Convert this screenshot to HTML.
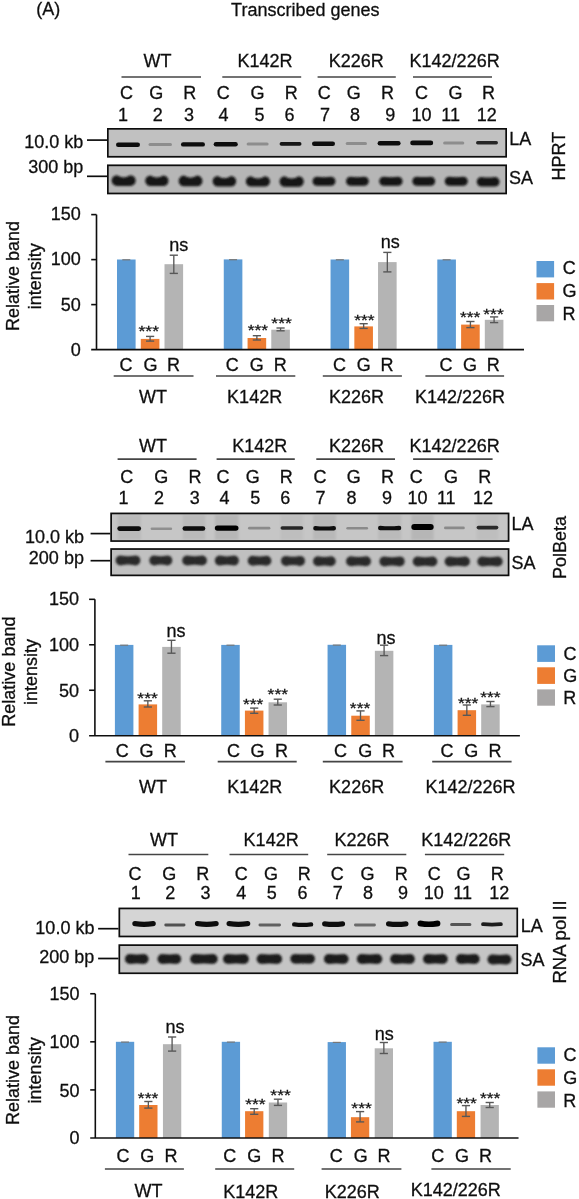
<!DOCTYPE html>
<html><head><meta charset="utf-8"><style>
html,body{margin:0;padding:0;background:#fff;}
svg{display:block;}
text{font-family:"Liberation Sans",sans-serif;stroke:#111;stroke-width:0.3px;}
</style></head><body>
<svg width="579" height="1199" viewBox="0 0 579 1199">
<defs>
<filter id="bl1" x="-20%" y="-200%" width="140%" height="500%"><feGaussianBlur stdDeviation="0.5"/></filter>
<filter id="bl2" x="-20%" y="-50%" width="140%" height="200%"><feGaussianBlur stdDeviation="0.9"/></filter>
<filter id="soft" x="0" y="0" width="579" height="1199" filterUnits="userSpaceOnUse"><feGaussianBlur stdDeviation="0.3"/></filter>
</defs>
<rect width="579" height="1199" fill="#fff"/>
<g filter="url(#soft)">
<text x="36.15" y="14.90" font-size="18" fill="#111">(A)</text>
<text x="231.08" y="15.60" font-size="18" fill="#111">Transcribed genes</text>
<text x="143.52" y="66.90" font-size="18" fill="#111">WT</text>
<text x="237.41" y="67.20" font-size="18" fill="#111">K142R</text>
<text x="328.66" y="67.20" font-size="18" fill="#111">K226R</text>
<text x="409.59" y="67.20" font-size="18" fill="#111">K142/226R</text>
<line x1="121.50" y1="77.00" x2="201.00" y2="77.00" stroke="#444" stroke-width="1.7"/>
<line x1="222.30" y1="77.00" x2="301.20" y2="77.00" stroke="#444" stroke-width="1.7"/>
<line x1="317.60" y1="77.00" x2="395.80" y2="77.00" stroke="#444" stroke-width="1.7"/>
<line x1="413.00" y1="77.00" x2="492.00" y2="77.00" stroke="#444" stroke-width="1.7"/>
<text x="119.89" y="98.90" font-size="18" fill="#111">C</text>
<text x="149.22" y="98.90" font-size="18" fill="#111">G</text>
<text x="183.18" y="98.90" font-size="18" fill="#111">R</text>
<text x="216.64" y="98.90" font-size="18" fill="#111">C</text>
<text x="250.42" y="98.90" font-size="18" fill="#111">G</text>
<text x="284.73" y="98.90" font-size="18" fill="#111">R</text>
<text x="317.64" y="98.90" font-size="18" fill="#111">C</text>
<text x="346.87" y="98.90" font-size="18" fill="#111">G</text>
<text x="381.03" y="98.90" font-size="18" fill="#111">R</text>
<text x="414.94" y="98.90" font-size="18" fill="#111">C</text>
<text x="448.57" y="98.90" font-size="18" fill="#111">G</text>
<text x="482.03" y="98.90" font-size="18" fill="#111">R</text>
<text x="117.95" y="121.20" font-size="18" fill="#111">1</text>
<text x="152.69" y="121.20" font-size="18" fill="#111">2</text>
<text x="183.90" y="121.20" font-size="18" fill="#111">3</text>
<text x="218.45" y="121.20" font-size="18" fill="#111">4</text>
<text x="254.61" y="121.20" font-size="18" fill="#111">5</text>
<text x="284.43" y="121.20" font-size="18" fill="#111">6</text>
<text x="319.99" y="121.20" font-size="18" fill="#111">7</text>
<text x="349.99" y="121.20" font-size="18" fill="#111">8</text>
<text x="385.25" y="121.20" font-size="18" fill="#111">9</text>
<text x="411.41" y="121.20" font-size="18" fill="#111">10</text>
<text x="441.29" y="121.20" font-size="18" fill="#111">11</text>
<text x="476.71" y="121.20" font-size="18" fill="#111">12</text>
<rect x="107.00" y="128.00" width="400.00" height="29.60" fill="#c1c1c1"/>
<rect x="107.00" y="164.50" width="400.00" height="29.80" fill="#b6b6b6"/>
<g filter="url(#bl1)">
<path d="M118.20,142.60 Q128.00,142.60 137.80,142.60 A2.20,2.20 0 0 1 137.80,147.00 Q128.00,147.00 118.20,147.00 A2.20,2.20 0 0 1 118.20,142.60Z" fill="#000" fill-opacity="0.95"/>
<path d="M150.00,143.10 Q160.25,143.10 170.50,143.10 A1.50,1.50 0 0 1 170.50,146.10 Q160.25,146.10 150.00,146.10 A1.50,1.50 0 0 1 150.00,143.10Z" fill="#000" fill-opacity="0.27"/>
<path d="M183.20,142.20 Q193.00,142.20 202.80,142.20 A2.20,2.20 0 0 1 202.80,146.60 Q193.00,146.60 183.20,146.60 A2.20,2.20 0 0 1 183.20,142.20Z" fill="#000" fill-opacity="0.95"/>
<path d="M215.95,141.95 Q225.75,141.95 235.55,141.95 A2.25,2.25 0 0 1 235.55,146.45 Q225.75,146.45 215.95,146.45 A2.25,2.25 0 0 1 215.95,141.95Z" fill="#000" fill-opacity="0.95"/>
<path d="M248.10,142.60 Q257.60,142.60 267.10,142.60 A1.50,1.50 0 0 1 267.10,145.60 Q257.60,145.60 248.10,145.60 A1.50,1.50 0 0 1 248.10,142.60Z" fill="#000" fill-opacity="0.27"/>
<path d="M281.40,142.10 Q290.55,142.10 299.70,142.10 A1.80,1.80 0 0 1 299.70,145.70 Q290.55,145.70 281.40,145.70 A1.80,1.80 0 0 1 281.40,142.10Z" fill="#000" fill-opacity="0.90"/>
<path d="M314.25,141.45 Q323.50,141.45 332.75,141.45 A2.25,2.25 0 0 1 332.75,145.95 Q323.50,145.95 314.25,145.95 A2.25,2.25 0 0 1 314.25,141.45Z" fill="#000" fill-opacity="0.95"/>
<path d="M347.20,142.00 Q356.35,142.00 365.50,142.00 A1.50,1.50 0 0 1 365.50,145.00 Q356.35,145.00 347.20,145.00 A1.50,1.50 0 0 1 347.20,142.00Z" fill="#000" fill-opacity="0.27"/>
<path d="M379.85,141.05 Q389.10,141.05 398.35,141.05 A2.25,2.25 0 0 1 398.35,145.55 Q389.10,145.55 379.85,145.55 A2.25,2.25 0 0 1 379.85,141.05Z" fill="#000" fill-opacity="0.95"/>
<path d="M412.60,140.50 Q421.70,140.50 430.80,140.50 A2.40,2.40 0 0 1 430.80,145.30 Q421.70,145.30 412.60,145.30 A2.40,2.40 0 0 1 412.60,140.50Z" fill="#000" fill-opacity="0.95"/>
<path d="M444.60,141.40 Q453.70,141.40 462.80,141.40 A1.50,1.50 0 0 1 462.80,144.40 Q453.70,144.40 444.60,144.40 A1.50,1.50 0 0 1 444.60,141.40Z" fill="#000" fill-opacity="0.27"/>
<path d="M477.70,141.10 Q487.00,141.10 496.30,141.10 A1.70,1.70 0 0 1 496.30,144.50 Q487.00,144.50 477.70,144.50 A1.70,1.70 0 0 1 477.70,141.10Z" fill="#000" fill-opacity="0.80"/>
</g><g filter="url(#bl2)">
<path d="M116.90,175.30 Q123.65,179.50 130.40,175.30 A5.30,5.30 0 0 1 130.40,185.90 Q123.65,185.90 116.90,185.90 A5.30,5.30 0 0 1 116.90,175.30Z" fill="#141414"/>
<path d="M150.50,175.40 Q156.85,179.60 163.20,175.40 A5.30,5.30 0 0 1 163.20,186.00 Q156.85,186.00 150.50,186.00 A5.30,5.30 0 0 1 150.50,175.40Z" fill="#141414"/>
<path d="M183.90,175.60 Q190.55,179.80 197.20,175.60 A5.30,5.30 0 0 1 197.20,186.20 Q190.55,186.20 183.90,186.20 A5.30,5.30 0 0 1 183.90,175.60Z" fill="#141414"/>
<path d="M217.80,176.10 Q224.40,180.50 231.00,176.10 A5.20,5.20 0 0 1 231.00,186.50 Q224.40,186.50 217.80,186.50 A5.20,5.20 0 0 1 217.80,176.10Z" fill="#141414"/>
<path d="M251.00,176.20 Q257.90,180.60 264.80,176.20 A5.20,5.20 0 0 1 264.80,186.60 Q257.90,186.60 251.00,186.60 A5.20,5.20 0 0 1 251.00,176.20Z" fill="#141414"/>
<path d="M284.70,176.30 Q291.65,180.70 298.60,176.30 A5.20,5.20 0 0 1 298.60,186.70 Q291.65,186.70 284.70,186.70 A5.20,5.20 0 0 1 284.70,176.30Z" fill="#141414"/>
<path d="M317.00,176.80 Q324.00,177.60 331.00,176.80 A4.50,4.50 0 0 1 331.00,185.80 Q324.00,185.80 317.00,185.80 A4.50,4.50 0 0 1 317.00,176.80Z" fill="#141414"/>
<path d="M350.50,176.80 Q357.40,177.60 364.30,176.80 A4.50,4.50 0 0 1 364.30,185.80 Q357.40,185.80 350.50,185.80 A4.50,4.50 0 0 1 350.50,176.80Z" fill="#141414"/>
<path d="M383.70,176.80 Q390.90,177.60 398.10,176.80 A4.50,4.50 0 0 1 398.10,185.80 Q390.90,185.80 383.70,185.80 A4.50,4.50 0 0 1 383.70,176.80Z" fill="#141414"/>
<path d="M416.80,176.70 Q423.75,177.50 430.70,176.70 A4.50,4.50 0 0 1 430.70,185.70 Q423.75,185.70 416.80,185.70 A4.50,4.50 0 0 1 416.80,176.70Z" fill="#141414"/>
<path d="M449.20,176.80 Q456.25,177.60 463.30,176.80 A4.50,4.50 0 0 1 463.30,185.80 Q456.25,185.80 449.20,185.80 A4.50,4.50 0 0 1 449.20,176.80Z" fill="#141414"/>
<path d="M481.50,177.00 Q488.15,178.00 494.80,177.00 A4.80,4.80 0 0 1 494.80,186.60 Q488.15,186.60 481.50,186.60 A4.80,4.80 0 0 1 481.50,177.00Z" fill="#141414"/>
</g>
<rect x="107.85" y="128.85" width="398.30" height="27.90" fill="none" stroke="#111" stroke-width="1.7"/>
<rect x="107.85" y="165.35" width="398.30" height="28.10" fill="none" stroke="#111" stroke-width="1.7"/>
<text x="24.27" y="148.10" font-size="18" fill="#111">10.0 kb</text>
<line x1="87.00" y1="140.10" x2="107.00" y2="140.10" stroke="#111" stroke-width="1.7"/>
<text x="28.16" y="173.30" font-size="18" fill="#111">300 bp</text>
<line x1="87.00" y1="176.30" x2="107.00" y2="176.30" stroke="#111" stroke-width="1.7"/>
<text x="509.27" y="145.20" font-size="18" fill="#111">LA</text>
<text x="509.10" y="184.10" font-size="18" fill="#111">SA</text>
<text transform="translate(565.20,180.53) rotate(-90)" font-size="18" fill="#111">HPRT</text>
<text x="50.67" y="220.40" font-size="18" fill="#111">150</text>
<text x="50.67" y="265.30" font-size="18" fill="#111">100</text>
<text x="60.68" y="310.90" font-size="18" fill="#111">50</text>
<text x="70.69" y="355.90" font-size="18" fill="#111">0</text>
<text transform="translate(19.00,330.95) rotate(-90)" font-size="18" fill="#111">Relative band</text>
<text transform="translate(41.00,309.35) rotate(-90)" font-size="18" fill="#111">intensity</text>
<rect x="117.00" y="259.50" width="18.60" height="90.10" fill="#5b9bd5"/>
<line x1="122.30" y1="259.80" x2="130.30" y2="259.80" stroke="#777" stroke-width="1.2"/>
<rect x="140.80" y="338.90" width="18.60" height="10.70" fill="#ed7d31"/>
<line x1="150.10" y1="336.40" x2="150.10" y2="341.10" stroke="#585858" stroke-width="1.35"/>
<line x1="146.00" y1="336.40" x2="154.20" y2="336.40" stroke="#585858" stroke-width="1.4"/>
<line x1="146.00" y1="341.10" x2="154.20" y2="341.10" stroke="#585858" stroke-width="1.4"/>
<rect x="164.50" y="264.20" width="18.60" height="85.40" fill="#b4b4b4"/>
<line x1="173.80" y1="255.20" x2="173.80" y2="273.40" stroke="#585858" stroke-width="1.35"/>
<line x1="169.70" y1="255.20" x2="177.90" y2="255.20" stroke="#585858" stroke-width="1.4"/>
<line x1="169.70" y1="273.40" x2="177.90" y2="273.40" stroke="#585858" stroke-width="1.4"/>
<rect x="223.77" y="259.40" width="18.60" height="90.20" fill="#5b9bd5"/>
<line x1="229.07" y1="259.70" x2="237.07" y2="259.70" stroke="#777" stroke-width="1.2"/>
<rect x="247.57" y="338.00" width="18.60" height="11.60" fill="#ed7d31"/>
<line x1="256.87" y1="335.70" x2="256.87" y2="340.00" stroke="#585858" stroke-width="1.35"/>
<line x1="252.77" y1="335.70" x2="260.97" y2="335.70" stroke="#585858" stroke-width="1.4"/>
<line x1="252.77" y1="340.00" x2="260.97" y2="340.00" stroke="#585858" stroke-width="1.4"/>
<rect x="271.27" y="329.70" width="18.60" height="19.90" fill="#b4b4b4"/>
<line x1="280.57" y1="328.00" x2="280.57" y2="330.80" stroke="#585858" stroke-width="1.35"/>
<line x1="276.47" y1="328.00" x2="284.67" y2="328.00" stroke="#585858" stroke-width="1.4"/>
<line x1="276.47" y1="330.80" x2="284.67" y2="330.80" stroke="#585858" stroke-width="1.4"/>
<rect x="330.54" y="259.50" width="18.60" height="90.10" fill="#5b9bd5"/>
<line x1="335.84" y1="259.80" x2="343.84" y2="259.80" stroke="#777" stroke-width="1.2"/>
<rect x="354.34" y="326.40" width="18.60" height="23.20" fill="#ed7d31"/>
<line x1="363.64" y1="323.70" x2="363.64" y2="328.40" stroke="#585858" stroke-width="1.35"/>
<line x1="359.54" y1="323.70" x2="367.74" y2="323.70" stroke="#585858" stroke-width="1.4"/>
<line x1="359.54" y1="328.40" x2="367.74" y2="328.40" stroke="#585858" stroke-width="1.4"/>
<rect x="378.04" y="262.10" width="18.60" height="87.50" fill="#b4b4b4"/>
<line x1="387.34" y1="252.40" x2="387.34" y2="271.90" stroke="#585858" stroke-width="1.35"/>
<line x1="383.24" y1="252.40" x2="391.44" y2="252.40" stroke="#585858" stroke-width="1.4"/>
<line x1="383.24" y1="271.90" x2="391.44" y2="271.90" stroke="#585858" stroke-width="1.4"/>
<rect x="437.31" y="259.50" width="18.60" height="90.10" fill="#5b9bd5"/>
<line x1="442.61" y1="259.80" x2="450.61" y2="259.80" stroke="#777" stroke-width="1.2"/>
<rect x="461.11" y="324.60" width="18.60" height="25.00" fill="#ed7d31"/>
<line x1="470.41" y1="321.50" x2="470.41" y2="327.60" stroke="#585858" stroke-width="1.35"/>
<line x1="466.31" y1="321.50" x2="474.51" y2="321.50" stroke="#585858" stroke-width="1.4"/>
<line x1="466.31" y1="327.60" x2="474.51" y2="327.60" stroke="#585858" stroke-width="1.4"/>
<rect x="484.81" y="319.80" width="18.60" height="29.80" fill="#b4b4b4"/>
<line x1="494.11" y1="316.90" x2="494.11" y2="322.60" stroke="#585858" stroke-width="1.35"/>
<line x1="490.01" y1="316.90" x2="498.21" y2="316.90" stroke="#585858" stroke-width="1.4"/>
<line x1="490.01" y1="322.60" x2="498.21" y2="322.60" stroke="#585858" stroke-width="1.4"/>
<line x1="96.50" y1="214.60" x2="96.50" y2="349.60" stroke="#111" stroke-width="1.6"/>
<line x1="91.20" y1="214.60" x2="96.50" y2="214.60" stroke="#111" stroke-width="1.6"/>
<line x1="91.20" y1="259.60" x2="96.50" y2="259.60" stroke="#111" stroke-width="1.6"/>
<line x1="91.20" y1="304.60" x2="96.50" y2="304.60" stroke="#111" stroke-width="1.6"/>
<line x1="91.20" y1="349.60" x2="524.00" y2="349.60" stroke="#111" stroke-width="1.6"/>
<text x="138.53" y="337.17" font-size="17.5" fill="#111" transform="translate(148.75,328.20) scale(1,0.84) translate(-148.75,-328.20)">***</text>
<text x="169.22" y="251.30" font-size="18" fill="#111">ns</text>
<text x="247.68" y="336.87" font-size="17.5" fill="#111" transform="translate(257.90,327.90) scale(1,0.84) translate(-257.90,-327.90)">***</text>
<text x="271.33" y="329.87" font-size="17.5" fill="#111" transform="translate(281.55,320.90) scale(1,0.84) translate(-281.55,-320.90)">***</text>
<text x="354.18" y="326.42" font-size="17.5" fill="#111" transform="translate(364.40,317.45) scale(1,0.84) translate(-364.40,-317.45)">***</text>
<text x="380.72" y="247.60" font-size="18" fill="#111">ns</text>
<text x="459.93" y="323.27" font-size="17.5" fill="#111" transform="translate(470.15,314.30) scale(1,0.84) translate(-470.15,-314.30)">***</text>
<text x="483.28" y="320.37" font-size="17.5" fill="#111" transform="translate(493.50,311.40) scale(1,0.84) translate(-493.50,-311.40)">***</text>
<text x="119.49" y="371.20" font-size="18" fill="#111">C</text>
<text x="143.57" y="371.20" font-size="18" fill="#111">G</text>
<text x="166.98" y="371.20" font-size="18" fill="#111">R</text>
<text x="225.74" y="371.20" font-size="18" fill="#111">C</text>
<text x="249.87" y="371.20" font-size="18" fill="#111">G</text>
<text x="273.73" y="371.20" font-size="18" fill="#111">R</text>
<text x="332.89" y="371.20" font-size="18" fill="#111">C</text>
<text x="356.87" y="371.20" font-size="18" fill="#111">G</text>
<text x="380.53" y="371.20" font-size="18" fill="#111">R</text>
<text x="439.49" y="371.20" font-size="18" fill="#111">C</text>
<text x="462.92" y="371.20" font-size="18" fill="#111">G</text>
<text x="486.73" y="371.20" font-size="18" fill="#111">R</text>
<line x1="113.70" y1="376.00" x2="193.50" y2="376.00" stroke="#444" stroke-width="1.7"/>
<line x1="216.00" y1="376.00" x2="295.30" y2="376.00" stroke="#444" stroke-width="1.7"/>
<line x1="322.80" y1="376.00" x2="401.90" y2="376.00" stroke="#444" stroke-width="1.7"/>
<line x1="425.40" y1="376.00" x2="504.10" y2="376.00" stroke="#444" stroke-width="1.7"/>
<text x="139.12" y="402.80" font-size="18" fill="#111">WT</text>
<text x="227.11" y="402.80" font-size="18" fill="#111">K142R</text>
<text x="328.96" y="402.80" font-size="18" fill="#111">K226R</text>
<text x="414.99" y="403.00" font-size="18" fill="#111">K142/226R</text>
<rect x="536.50" y="261.00" width="17.60" height="16.40" fill="#5b9bd5"/>
<rect x="536.50" y="283.10" width="17.60" height="16.40" fill="#ed7d31"/>
<rect x="536.50" y="305.00" width="17.60" height="16.30" fill="#a8a6a6"/>
<text x="562.74" y="274.30" font-size="18" fill="#111">C</text>
<text x="562.57" y="297.20" font-size="18" fill="#111">G</text>
<text x="562.53" y="320.20" font-size="18" fill="#111">R</text>
<text x="139.02" y="451.50" font-size="18" fill="#111">WT</text>
<text x="232.21" y="451.90" font-size="18" fill="#111">K142R</text>
<text x="328.91" y="451.90" font-size="18" fill="#111">K226R</text>
<text x="409.59" y="451.90" font-size="18" fill="#111">K142/226R</text>
<line x1="117.60" y1="459.20" x2="196.60" y2="459.20" stroke="#444" stroke-width="1.7"/>
<line x1="216.60" y1="459.20" x2="294.80" y2="459.20" stroke="#444" stroke-width="1.7"/>
<line x1="316.30" y1="459.20" x2="395.00" y2="459.20" stroke="#444" stroke-width="1.7"/>
<line x1="413.10" y1="459.20" x2="492.60" y2="459.20" stroke="#444" stroke-width="1.7"/>
<text x="120.34" y="483.20" font-size="18" fill="#111">C</text>
<text x="154.37" y="483.20" font-size="18" fill="#111">G</text>
<text x="188.38" y="483.20" font-size="18" fill="#111">R</text>
<text x="216.44" y="483.20" font-size="18" fill="#111">C</text>
<text x="245.72" y="483.20" font-size="18" fill="#111">G</text>
<text x="279.78" y="483.20" font-size="18" fill="#111">R</text>
<text x="313.44" y="483.20" font-size="18" fill="#111">C</text>
<text x="346.77" y="483.20" font-size="18" fill="#111">G</text>
<text x="381.03" y="483.20" font-size="18" fill="#111">R</text>
<text x="409.74" y="483.20" font-size="18" fill="#111">C</text>
<text x="443.92" y="483.20" font-size="18" fill="#111">G</text>
<text x="478.18" y="483.20" font-size="18" fill="#111">R</text>
<text x="118.45" y="503.90" font-size="18" fill="#111">1</text>
<text x="153.94" y="503.90" font-size="18" fill="#111">2</text>
<text x="189.65" y="503.90" font-size="18" fill="#111">3</text>
<text x="219.40" y="503.90" font-size="18" fill="#111">4</text>
<text x="250.26" y="503.90" font-size="18" fill="#111">5</text>
<text x="280.23" y="503.90" font-size="18" fill="#111">6</text>
<text x="315.44" y="503.90" font-size="18" fill="#111">7</text>
<text x="346.39" y="503.90" font-size="18" fill="#111">8</text>
<text x="381.95" y="503.90" font-size="18" fill="#111">9</text>
<text x="407.51" y="503.90" font-size="18" fill="#111">10</text>
<text x="436.94" y="503.90" font-size="18" fill="#111">11</text>
<text x="473.06" y="503.90" font-size="18" fill="#111">12</text>
<rect x="110.30" y="512.60" width="399.10" height="29.30" fill="#c6c6c6"/>
<rect x="110.30" y="548.20" width="399.10" height="28.00" fill="#c0c0c0"/>
<g filter="url(#bl2)">
<rect x="117.30" y="514.60" width="23.80" height="25.30" fill="#000" fill-opacity="0.060"/>
<rect x="182.50" y="514.60" width="22.80" height="25.30" fill="#000" fill-opacity="0.060"/>
<rect x="214.80" y="514.60" width="23.70" height="25.30" fill="#000" fill-opacity="0.080"/>
<rect x="280.50" y="514.60" width="22.80" height="25.30" fill="#000" fill-opacity="0.040"/>
<rect x="313.20" y="514.60" width="22.80" height="25.30" fill="#000" fill-opacity="0.070"/>
<rect x="378.00" y="514.60" width="23.30" height="25.30" fill="#000" fill-opacity="0.060"/>
<rect x="411.30" y="514.60" width="22.40" height="25.30" fill="#000" fill-opacity="0.080"/>
<rect x="476.60" y="514.60" width="21.80" height="25.30" fill="#000" fill-opacity="0.040"/>
</g>
<g filter="url(#bl1)">
<path d="M119.65,526.25 Q129.20,526.25 138.75,526.25 A2.35,2.35 0 0 1 138.75,530.95 Q129.20,530.95 119.65,530.95 A2.35,2.35 0 0 1 119.65,526.25Z" fill="#000" fill-opacity="0.95"/>
<path d="M151.90,527.50 Q161.40,527.50 170.90,527.50 A1.30,1.30 0 0 1 170.90,530.10 Q161.40,530.10 151.90,530.10 A1.30,1.30 0 0 1 151.90,527.50Z" fill="#000" fill-opacity="0.28"/>
<path d="M184.75,526.15 Q193.90,526.15 203.05,526.15 A2.25,2.25 0 0 1 203.05,530.65 Q193.90,530.65 184.75,530.65 A2.25,2.25 0 0 1 184.75,526.15Z" fill="#000" fill-opacity="0.95"/>
<path d="M217.50,525.40 Q226.65,525.40 235.80,525.40 A2.70,2.70 0 0 1 235.80,530.80 Q226.65,530.80 217.50,530.80 A2.70,2.70 0 0 1 217.50,525.40Z" fill="#000" fill-opacity="1.00"/>
<path d="M249.40,526.80 Q259.20,526.80 269.00,526.80 A1.40,1.40 0 0 1 269.00,529.60 Q259.20,529.60 249.40,529.60 A1.40,1.40 0 0 1 249.40,526.80Z" fill="#000" fill-opacity="0.30"/>
<path d="M282.25,526.25 Q291.90,526.25 301.55,526.25 A1.75,1.75 0 0 1 301.55,529.75 Q291.90,529.75 282.25,529.75 A1.75,1.75 0 0 1 282.25,526.25Z" fill="#000" fill-opacity="0.80"/>
<path d="M315.40,526.00 Q324.60,527.00 333.80,526.00 A2.20,2.20 0 0 1 333.80,530.40 Q324.60,530.40 315.40,530.40 A2.20,2.20 0 0 1 315.40,526.00Z" fill="#000" fill-opacity="0.95"/>
<path d="M347.55,526.95 Q357.20,526.95 366.85,526.95 A1.25,1.25 0 0 1 366.85,529.45 Q357.20,529.45 347.55,529.45 A1.25,1.25 0 0 1 347.55,526.95Z" fill="#000" fill-opacity="0.30"/>
<path d="M380.25,525.75 Q389.65,526.75 399.05,525.75 A2.25,2.25 0 0 1 399.05,530.25 Q389.65,530.25 380.25,530.25 A2.25,2.25 0 0 1 380.25,525.75Z" fill="#000" fill-opacity="0.95"/>
<path d="M414.30,524.00 Q422.50,524.00 430.70,524.00 A3.00,3.00 0 0 1 430.70,530.00 Q422.50,530.00 414.30,530.00 A3.00,3.00 0 0 1 414.30,524.00Z" fill="#000" fill-opacity="1.00"/>
<path d="M445.30,526.60 Q454.40,526.60 463.50,526.60 A1.30,1.30 0 0 1 463.50,529.20 Q454.40,529.20 445.30,529.20 A1.30,1.30 0 0 1 445.30,526.60Z" fill="#000" fill-opacity="0.30"/>
<path d="M478.40,525.80 Q487.50,525.80 496.60,525.80 A1.80,1.80 0 0 1 496.60,529.40 Q487.50,529.40 478.40,529.40 A1.80,1.80 0 0 1 478.40,525.80Z" fill="#000" fill-opacity="0.78"/>
</g><g filter="url(#bl2)">
<path d="M120.60,555.40 Q128.00,557.00 135.40,555.40 A5.00,5.00 0 0 1 135.40,565.40 Q128.00,563.80 120.60,565.40 A5.00,5.00 0 0 1 120.60,555.40Z" fill="#2a2a2a"/>
<path d="M154.30,555.40 Q160.80,557.00 167.30,555.40 A5.00,5.00 0 0 1 167.30,565.40 Q160.80,563.80 154.30,565.40 A5.00,5.00 0 0 1 154.30,555.40Z" fill="#2a2a2a"/>
<path d="M187.20,555.50 Q194.60,557.10 202.00,555.50 A5.00,5.00 0 0 1 202.00,565.50 Q194.60,563.90 187.20,565.50 A5.00,5.00 0 0 1 187.20,555.50Z" fill="#2a2a2a"/>
<path d="M219.80,555.60 Q226.85,557.20 233.90,555.60 A5.00,5.00 0 0 1 233.90,565.60 Q226.85,564.00 219.80,565.60 A5.00,5.00 0 0 1 219.80,555.60Z" fill="#2a2a2a"/>
<path d="M252.70,555.80 Q259.55,557.40 266.40,555.80 A5.00,5.00 0 0 1 266.40,565.80 Q259.55,564.20 252.70,565.80 A5.00,5.00 0 0 1 252.70,555.80Z" fill="#2a2a2a"/>
<path d="M286.00,555.90 Q293.00,557.50 300.00,555.90 A5.00,5.00 0 0 1 300.00,565.90 Q293.00,564.30 286.00,565.90 A5.00,5.00 0 0 1 286.00,555.90Z" fill="#2a2a2a"/>
<path d="M318.00,556.20 Q324.40,557.80 330.80,556.20 A5.00,5.00 0 0 1 330.80,566.20 Q324.40,564.60 318.00,566.20 A5.00,5.00 0 0 1 318.00,556.20Z" fill="#2a2a2a"/>
<path d="M351.00,556.30 Q358.50,557.90 366.00,556.30 A5.00,5.00 0 0 1 366.00,566.30 Q358.50,564.70 351.00,566.30 A5.00,5.00 0 0 1 351.00,556.30Z" fill="#2a2a2a"/>
<path d="M384.40,556.40 Q392.05,558.00 399.70,556.40 A5.00,5.00 0 0 1 399.70,566.40 Q392.05,564.80 384.40,566.40 A5.00,5.00 0 0 1 384.40,556.40Z" fill="#2a2a2a"/>
<path d="M417.70,556.50 Q425.05,558.10 432.40,556.50 A5.00,5.00 0 0 1 432.40,566.50 Q425.05,564.90 417.70,566.50 A5.00,5.00 0 0 1 417.70,556.50Z" fill="#2a2a2a"/>
<path d="M449.60,556.50 Q457.30,558.10 465.00,556.50 A5.00,5.00 0 0 1 465.00,566.50 Q457.30,564.90 449.60,566.50 A5.00,5.00 0 0 1 449.60,556.50Z" fill="#2a2a2a"/>
<path d="M482.30,556.50 Q490.00,558.10 497.70,556.50 A5.00,5.00 0 0 1 497.70,566.50 Q490.00,564.90 482.30,566.50 A5.00,5.00 0 0 1 482.30,556.50Z" fill="#2a2a2a"/>
</g>
<rect x="111.15" y="513.45" width="397.40" height="27.60" fill="none" stroke="#111" stroke-width="1.7"/>
<rect x="111.15" y="549.05" width="397.40" height="26.30" fill="none" stroke="#111" stroke-width="1.7"/>
<text x="25.07" y="543.10" font-size="18" fill="#111">10.0 kb</text>
<line x1="90.60" y1="533.60" x2="110.30" y2="533.60" stroke="#111" stroke-width="1.7"/>
<text x="28.85" y="563.90" font-size="18" fill="#111">200 bp</text>
<line x1="90.60" y1="560.70" x2="110.30" y2="560.70" stroke="#111" stroke-width="1.7"/>
<text x="511.57" y="529.90" font-size="18" fill="#111">LA</text>
<text x="511.45" y="569.40" font-size="18" fill="#111">SA</text>
<text transform="translate(565.50,579.01) rotate(-90)" font-size="18" fill="#111">PolBeta</text>
<text x="48.97" y="605.10" font-size="18" fill="#111">150</text>
<text x="48.97" y="650.70" font-size="18" fill="#111">100</text>
<text x="58.98" y="696.60" font-size="18" fill="#111">50</text>
<text x="68.99" y="742.20" font-size="18" fill="#111">0</text>
<text transform="translate(15.20,726.65) rotate(-90)" font-size="18" fill="#111">Relative band</text>
<text transform="translate(37.20,705.05) rotate(-90)" font-size="18" fill="#111">intensity</text>
<rect x="114.90" y="644.90" width="18.50" height="90.80" fill="#5b9bd5"/>
<line x1="120.15" y1="645.20" x2="128.15" y2="645.20" stroke="#777" stroke-width="1.2"/>
<rect x="138.60" y="704.40" width="18.50" height="31.30" fill="#ed7d31"/>
<line x1="147.85" y1="700.80" x2="147.85" y2="707.00" stroke="#585858" stroke-width="1.35"/>
<line x1="143.75" y1="700.80" x2="151.95" y2="700.80" stroke="#585858" stroke-width="1.4"/>
<line x1="143.75" y1="707.00" x2="151.95" y2="707.00" stroke="#585858" stroke-width="1.4"/>
<rect x="162.20" y="646.90" width="18.50" height="88.80" fill="#b4b4b4"/>
<line x1="171.45" y1="640.30" x2="171.45" y2="653.20" stroke="#585858" stroke-width="1.35"/>
<line x1="167.35" y1="640.30" x2="175.55" y2="640.30" stroke="#585858" stroke-width="1.4"/>
<line x1="167.35" y1="653.20" x2="175.55" y2="653.20" stroke="#585858" stroke-width="1.4"/>
<rect x="221.23" y="644.90" width="18.50" height="90.80" fill="#5b9bd5"/>
<line x1="226.48" y1="645.20" x2="234.48" y2="645.20" stroke="#777" stroke-width="1.2"/>
<rect x="244.93" y="710.60" width="18.50" height="25.10" fill="#ed7d31"/>
<line x1="254.18" y1="708.10" x2="254.18" y2="713.30" stroke="#585858" stroke-width="1.35"/>
<line x1="250.08" y1="708.10" x2="258.28" y2="708.10" stroke="#585858" stroke-width="1.4"/>
<line x1="250.08" y1="713.30" x2="258.28" y2="713.30" stroke="#585858" stroke-width="1.4"/>
<rect x="268.53" y="702.30" width="18.50" height="33.40" fill="#b4b4b4"/>
<line x1="277.78" y1="699.20" x2="277.78" y2="705.00" stroke="#585858" stroke-width="1.35"/>
<line x1="273.68" y1="699.20" x2="281.88" y2="699.20" stroke="#585858" stroke-width="1.4"/>
<line x1="273.68" y1="705.00" x2="281.88" y2="705.00" stroke="#585858" stroke-width="1.4"/>
<rect x="327.56" y="644.80" width="18.50" height="90.90" fill="#5b9bd5"/>
<line x1="332.81" y1="645.10" x2="340.81" y2="645.10" stroke="#777" stroke-width="1.2"/>
<rect x="351.26" y="715.70" width="18.50" height="20.00" fill="#ed7d31"/>
<line x1="360.51" y1="710.90" x2="360.51" y2="720.30" stroke="#585858" stroke-width="1.35"/>
<line x1="356.41" y1="710.90" x2="364.61" y2="710.90" stroke="#585858" stroke-width="1.4"/>
<line x1="356.41" y1="720.30" x2="364.61" y2="720.30" stroke="#585858" stroke-width="1.4"/>
<rect x="374.86" y="650.80" width="18.50" height="84.90" fill="#b4b4b4"/>
<line x1="384.11" y1="645.20" x2="384.11" y2="655.60" stroke="#585858" stroke-width="1.35"/>
<line x1="380.01" y1="645.20" x2="388.21" y2="645.20" stroke="#585858" stroke-width="1.4"/>
<line x1="380.01" y1="655.60" x2="388.21" y2="655.60" stroke="#585858" stroke-width="1.4"/>
<rect x="433.89" y="644.90" width="18.50" height="90.80" fill="#5b9bd5"/>
<line x1="439.14" y1="645.20" x2="447.14" y2="645.20" stroke="#777" stroke-width="1.2"/>
<rect x="457.59" y="710.20" width="18.50" height="25.50" fill="#ed7d31"/>
<line x1="466.84" y1="705.00" x2="466.84" y2="715.30" stroke="#585858" stroke-width="1.35"/>
<line x1="462.74" y1="705.00" x2="470.94" y2="705.00" stroke="#585858" stroke-width="1.4"/>
<line x1="462.74" y1="715.30" x2="470.94" y2="715.30" stroke="#585858" stroke-width="1.4"/>
<rect x="481.19" y="704.40" width="18.50" height="31.30" fill="#b4b4b4"/>
<line x1="490.44" y1="701.50" x2="490.44" y2="706.60" stroke="#585858" stroke-width="1.35"/>
<line x1="486.34" y1="701.50" x2="494.54" y2="701.50" stroke="#585858" stroke-width="1.4"/>
<line x1="486.34" y1="706.60" x2="494.54" y2="706.60" stroke="#585858" stroke-width="1.4"/>
<line x1="94.90" y1="599.31" x2="94.90" y2="735.70" stroke="#111" stroke-width="1.6"/>
<line x1="89.10" y1="599.31" x2="94.90" y2="599.31" stroke="#111" stroke-width="1.6"/>
<line x1="89.10" y1="644.77" x2="94.90" y2="644.77" stroke="#111" stroke-width="1.6"/>
<line x1="89.10" y1="690.24" x2="94.90" y2="690.24" stroke="#111" stroke-width="1.6"/>
<line x1="89.10" y1="735.70" x2="519.90" y2="735.70" stroke="#111" stroke-width="1.6"/>
<text x="137.33" y="703.97" font-size="17.5" fill="#111" transform="translate(147.55,695.00) scale(1,0.84) translate(-147.55,-695.00)">***</text>
<text x="166.62" y="637.20" font-size="18" fill="#111">ns</text>
<text x="242.93" y="710.47" font-size="17.5" fill="#111" transform="translate(253.15,701.50) scale(1,0.84) translate(-253.15,-701.50)">***</text>
<text x="267.63" y="700.67" font-size="17.5" fill="#111" transform="translate(277.85,691.70) scale(1,0.84) translate(-277.85,-691.70)">***</text>
<text x="349.83" y="714.17" font-size="17.5" fill="#111" transform="translate(360.05,705.20) scale(1,0.84) translate(-360.05,-705.20)">***</text>
<text x="376.62" y="644.20" font-size="18" fill="#111">ns</text>
<text x="457.93" y="709.37" font-size="17.5" fill="#111" transform="translate(468.15,700.40) scale(1,0.84) translate(-468.15,-700.40)">***</text>
<text x="480.23" y="703.17" font-size="17.5" fill="#111" transform="translate(490.45,694.20) scale(1,0.84) translate(-490.45,-694.20)">***</text>
<text x="115.64" y="756.90" font-size="18" fill="#111">C</text>
<text x="139.42" y="756.90" font-size="18" fill="#111">G</text>
<text x="163.68" y="756.90" font-size="18" fill="#111">R</text>
<text x="226.99" y="756.90" font-size="18" fill="#111">C</text>
<text x="250.62" y="756.90" font-size="18" fill="#111">G</text>
<text x="275.03" y="756.90" font-size="18" fill="#111">R</text>
<text x="334.09" y="756.90" font-size="18" fill="#111">C</text>
<text x="358.37" y="756.90" font-size="18" fill="#111">G</text>
<text x="382.08" y="756.90" font-size="18" fill="#111">R</text>
<text x="440.49" y="756.90" font-size="18" fill="#111">C</text>
<text x="464.37" y="756.90" font-size="18" fill="#111">G</text>
<text x="488.48" y="756.90" font-size="18" fill="#111">R</text>
<line x1="105.40" y1="761.60" x2="184.90" y2="761.60" stroke="#444" stroke-width="1.7"/>
<line x1="217.70" y1="761.60" x2="296.70" y2="761.60" stroke="#444" stroke-width="1.7"/>
<line x1="322.80" y1="761.60" x2="402.60" y2="761.60" stroke="#444" stroke-width="1.7"/>
<line x1="432.20" y1="761.60" x2="511.60" y2="761.60" stroke="#444" stroke-width="1.7"/>
<text x="138.92" y="792.90" font-size="18" fill="#111">WT</text>
<text x="227.16" y="793.20" font-size="18" fill="#111">K142R</text>
<text x="329.11" y="793.20" font-size="18" fill="#111">K226R</text>
<text x="425.49" y="793.30" font-size="18" fill="#111">K142/226R</text>
<rect x="537.20" y="645.30" width="17.80" height="16.60" fill="#5b9bd5"/>
<rect x="537.20" y="667.30" width="17.80" height="16.60" fill="#ed7d31"/>
<rect x="537.20" y="689.40" width="17.80" height="16.30" fill="#a8a6a6"/>
<text x="563.54" y="659.60" font-size="18" fill="#111">C</text>
<text x="563.37" y="682.20" font-size="18" fill="#111">G</text>
<text x="563.33" y="704.30" font-size="18" fill="#111">R</text>
<text x="150.12" y="845.60" font-size="18" fill="#111">WT</text>
<text x="243.61" y="845.70" font-size="18" fill="#111">K142R</text>
<text x="334.56" y="845.70" font-size="18" fill="#111">K226R</text>
<text x="421.14" y="845.70" font-size="18" fill="#111">K142/226R</text>
<line x1="128.50" y1="854.50" x2="208.30" y2="854.50" stroke="#444" stroke-width="1.7"/>
<line x1="229.50" y1="854.50" x2="308.20" y2="854.50" stroke="#444" stroke-width="1.7"/>
<line x1="327.20" y1="854.50" x2="406.30" y2="854.50" stroke="#444" stroke-width="1.7"/>
<line x1="424.90" y1="854.50" x2="504.20" y2="854.50" stroke="#444" stroke-width="1.7"/>
<text x="128.39" y="879.90" font-size="18" fill="#111">C</text>
<text x="162.37" y="879.90" font-size="18" fill="#111">G</text>
<text x="196.18" y="879.90" font-size="18" fill="#111">R</text>
<text x="234.79" y="879.90" font-size="18" fill="#111">C</text>
<text x="264.02" y="879.90" font-size="18" fill="#111">G</text>
<text x="297.68" y="879.90" font-size="18" fill="#111">R</text>
<text x="330.64" y="879.90" font-size="18" fill="#111">C</text>
<text x="360.52" y="879.90" font-size="18" fill="#111">G</text>
<text x="394.68" y="879.90" font-size="18" fill="#111">R</text>
<text x="427.79" y="879.90" font-size="18" fill="#111">C</text>
<text x="456.47" y="879.90" font-size="18" fill="#111">G</text>
<text x="490.78" y="879.90" font-size="18" fill="#111">R</text>
<text x="130.80" y="898.50" font-size="18" fill="#111">1</text>
<text x="165.29" y="898.50" font-size="18" fill="#111">2</text>
<text x="200.60" y="898.50" font-size="18" fill="#111">3</text>
<text x="236.35" y="898.50" font-size="18" fill="#111">4</text>
<text x="266.81" y="898.50" font-size="18" fill="#111">5</text>
<text x="297.48" y="898.50" font-size="18" fill="#111">6</text>
<text x="332.74" y="898.50" font-size="18" fill="#111">7</text>
<text x="362.94" y="898.50" font-size="18" fill="#111">8</text>
<text x="398.05" y="898.50" font-size="18" fill="#111">9</text>
<text x="423.76" y="898.50" font-size="18" fill="#111">10</text>
<text x="453.29" y="898.50" font-size="18" fill="#111">11</text>
<text x="489.31" y="898.50" font-size="18" fill="#111">12</text>
<rect x="118.50" y="907.60" width="399.60" height="29.70" fill="#d5d5d5"/>
<rect x="118.50" y="944.30" width="399.60" height="29.80" fill="#c5c5c5"/>
<g filter="url(#bl1)">
<path d="M135.00,920.90 Q144.05,922.50 153.10,920.90 A2.70,2.70 0 0 1 153.10,926.30 Q144.05,927.70 135.00,926.30 A2.70,2.70 0 0 1 135.00,920.90Z" fill="#000" fill-opacity="0.95"/>
<path d="M165.70,923.60 Q174.90,923.60 184.10,923.60 A1.40,1.40 0 0 1 184.10,926.40 Q174.90,926.40 165.70,926.40 A1.40,1.40 0 0 1 165.70,923.60Z" fill="#000" fill-opacity="0.62"/>
<path d="M197.60,920.90 Q206.80,922.50 216.00,920.90 A2.70,2.70 0 0 1 216.00,926.30 Q206.80,927.70 197.60,926.30 A2.70,2.70 0 0 1 197.60,920.90Z" fill="#000" fill-opacity="0.95"/>
<path d="M229.20,920.90 Q238.40,922.50 247.60,920.90 A2.70,2.70 0 0 1 247.60,926.30 Q238.40,927.70 229.20,926.30 A2.70,2.70 0 0 1 229.20,920.90Z" fill="#000" fill-opacity="0.95"/>
<path d="M259.90,923.60 Q269.75,923.60 279.60,923.60 A1.40,1.40 0 0 1 279.60,926.40 Q269.75,926.40 259.90,926.40 A1.40,1.40 0 0 1 259.90,923.60Z" fill="#000" fill-opacity="0.55"/>
<path d="M294.20,922.20 Q302.65,923.40 311.10,922.20 A2.20,2.20 0 0 1 311.10,926.60 Q302.65,927.60 294.20,926.60 A2.20,2.20 0 0 1 294.20,922.20Z" fill="#000" fill-opacity="0.95"/>
<path d="M324.70,921.20 Q333.60,922.40 342.50,921.20 A2.60,2.60 0 0 1 342.50,926.40 Q333.60,927.60 324.70,926.40 A2.60,2.60 0 0 1 324.70,921.20Z" fill="#000" fill-opacity="0.95"/>
<path d="M355.40,923.60 Q364.95,923.60 374.50,923.60 A1.40,1.40 0 0 1 374.50,926.40 Q364.95,926.40 355.40,926.40 A1.40,1.40 0 0 1 355.40,923.60Z" fill="#000" fill-opacity="0.50"/>
<path d="M388.60,921.20 Q397.25,922.40 405.90,921.20 A2.60,2.60 0 0 1 405.90,926.40 Q397.25,927.60 388.60,926.40 A2.60,2.60 0 0 1 388.60,921.20Z" fill="#000" fill-opacity="0.95"/>
<path d="M420.50,920.40 Q428.95,922.40 437.40,920.40 A3.00,3.00 0 0 1 437.40,926.40 Q428.95,927.60 420.50,926.40 A3.00,3.00 0 0 1 420.50,920.40Z" fill="#000" fill-opacity="1.00"/>
<path d="M451.60,923.10 Q460.75,923.10 469.90,923.10 A1.50,1.50 0 0 1 469.90,926.10 Q460.75,926.10 451.60,926.10 A1.50,1.50 0 0 1 451.60,923.10Z" fill="#000" fill-opacity="0.60"/>
<path d="M483.00,922.30 Q491.95,923.10 500.90,922.30 A1.90,1.90 0 0 1 500.90,926.10 Q491.95,926.90 483.00,926.10 A1.90,1.90 0 0 1 483.00,922.30Z" fill="#000" fill-opacity="0.88"/>
</g><g filter="url(#bl2)">
<path d="M129.80,954.10 Q136.75,954.70 143.70,954.10 A4.90,4.90 0 0 1 143.70,963.90 Q136.75,963.30 129.80,963.90 A4.90,4.90 0 0 1 129.80,954.10Z" fill="#1c1c1c"/>
<path d="M162.40,954.10 Q169.35,954.70 176.30,954.10 A4.90,4.90 0 0 1 176.30,963.90 Q169.35,963.30 162.40,963.90 A4.90,4.90 0 0 1 162.40,954.10Z" fill="#1c1c1c"/>
<path d="M195.00,954.10 Q203.90,954.70 212.80,954.10 A4.90,4.90 0 0 1 212.80,963.90 Q203.90,963.30 195.00,963.90 A4.90,4.90 0 0 1 195.00,954.10Z" fill="#1c1c1c"/>
<path d="M227.90,954.10 Q235.95,954.70 244.00,954.10 A4.90,4.90 0 0 1 244.00,963.90 Q235.95,963.30 227.90,963.90 A4.90,4.90 0 0 1 227.90,954.10Z" fill="#1c1c1c"/>
<path d="M261.50,954.10 Q269.35,954.70 277.20,954.10 A4.90,4.90 0 0 1 277.20,963.90 Q269.35,963.30 261.50,963.90 A4.90,4.90 0 0 1 261.50,954.10Z" fill="#1c1c1c"/>
<path d="M295.20,953.90 Q302.65,954.50 310.10,953.90 A4.90,4.90 0 0 1 310.10,963.70 Q302.65,963.10 295.20,963.70 A4.90,4.90 0 0 1 295.20,953.90Z" fill="#1c1c1c"/>
<path d="M328.80,954.10 Q336.25,954.70 343.70,954.10 A4.90,4.90 0 0 1 343.70,963.90 Q336.25,963.30 328.80,963.90 A4.90,4.90 0 0 1 328.80,954.10Z" fill="#1c1c1c"/>
<path d="M361.70,954.10 Q369.55,954.70 377.40,954.10 A4.90,4.90 0 0 1 377.40,963.90 Q369.55,963.30 361.70,963.90 A4.90,4.90 0 0 1 361.70,954.10Z" fill="#1c1c1c"/>
<path d="M395.00,954.10 Q402.50,954.70 410.00,954.10 A4.90,4.90 0 0 1 410.00,963.90 Q402.50,963.30 395.00,963.90 A4.90,4.90 0 0 1 395.00,954.10Z" fill="#1c1c1c"/>
<path d="M427.90,954.10 Q435.40,954.70 442.90,954.10 A4.90,4.90 0 0 1 442.90,963.90 Q435.40,963.30 427.90,963.90 A4.90,4.90 0 0 1 427.90,954.10Z" fill="#1c1c1c"/>
<path d="M460.80,954.10 Q467.80,954.70 474.80,954.10 A4.90,4.90 0 0 1 474.80,963.90 Q467.80,963.30 460.80,963.90 A4.90,4.90 0 0 1 460.80,954.10Z" fill="#1c1c1c"/>
<path d="M492.40,954.60 Q499.50,955.20 506.60,954.60 A4.90,4.90 0 0 1 506.60,964.40 Q499.50,963.80 492.40,964.40 A4.90,4.90 0 0 1 492.40,954.60Z" fill="#1c1c1c"/>
</g>
<rect x="119.35" y="908.45" width="397.90" height="28.00" fill="none" stroke="#111" stroke-width="1.7"/>
<rect x="119.35" y="945.15" width="397.90" height="28.10" fill="none" stroke="#111" stroke-width="1.7"/>
<text x="35.37" y="933.80" font-size="18" fill="#111">10.0 kb</text>
<line x1="98.10" y1="928.70" x2="118.50" y2="928.70" stroke="#111" stroke-width="1.7"/>
<text x="39.15" y="963.00" font-size="18" fill="#111">200 bp</text>
<line x1="98.10" y1="958.50" x2="118.50" y2="958.50" stroke="#111" stroke-width="1.7"/>
<text x="520.67" y="931.50" font-size="18" fill="#111">LA</text>
<text x="520.40" y="966.10" font-size="18" fill="#111">SA</text>
<text transform="translate(566.00,983.56) rotate(-90)" font-size="18.5" fill="#111">RNA pol II</text>
<text x="49.47" y="999.70" font-size="18" fill="#111">150</text>
<text x="49.47" y="1048.40" font-size="18" fill="#111">100</text>
<text x="59.48" y="1096.60" font-size="18" fill="#111">50</text>
<text x="69.49" y="1144.20" font-size="18" fill="#111">0</text>
<text transform="translate(18.70,1125.00) rotate(-90)" font-size="18" fill="#111">Relative band</text>
<text transform="translate(40.70,1103.40) rotate(-90)" font-size="18" fill="#111">intensity</text>
<rect x="115.90" y="1041.80" width="18.30" height="96.20" fill="#5b9bd5"/>
<line x1="121.05" y1="1042.10" x2="129.05" y2="1042.10" stroke="#777" stroke-width="1.2"/>
<rect x="139.20" y="1105.00" width="18.30" height="33.00" fill="#ed7d31"/>
<line x1="148.35" y1="1101.50" x2="148.35" y2="1108.10" stroke="#585858" stroke-width="1.35"/>
<line x1="144.25" y1="1101.50" x2="152.45" y2="1101.50" stroke="#585858" stroke-width="1.4"/>
<line x1="144.25" y1="1108.10" x2="152.45" y2="1108.10" stroke="#585858" stroke-width="1.4"/>
<rect x="162.95" y="1044.20" width="18.30" height="93.80" fill="#b4b4b4"/>
<line x1="172.10" y1="1037.00" x2="172.10" y2="1051.10" stroke="#585858" stroke-width="1.35"/>
<line x1="168.00" y1="1037.00" x2="176.20" y2="1037.00" stroke="#585858" stroke-width="1.4"/>
<line x1="168.00" y1="1051.10" x2="176.20" y2="1051.10" stroke="#585858" stroke-width="1.4"/>
<rect x="221.77" y="1041.80" width="18.30" height="96.20" fill="#5b9bd5"/>
<line x1="226.92" y1="1042.10" x2="234.92" y2="1042.10" stroke="#777" stroke-width="1.2"/>
<rect x="245.07" y="1111.20" width="18.30" height="26.80" fill="#ed7d31"/>
<line x1="254.22" y1="1108.70" x2="254.22" y2="1114.30" stroke="#585858" stroke-width="1.35"/>
<line x1="250.12" y1="1108.70" x2="258.32" y2="1108.70" stroke="#585858" stroke-width="1.4"/>
<line x1="250.12" y1="1114.30" x2="258.32" y2="1114.30" stroke="#585858" stroke-width="1.4"/>
<rect x="268.82" y="1102.50" width="18.30" height="35.50" fill="#b4b4b4"/>
<line x1="277.97" y1="1099.20" x2="277.97" y2="1105.40" stroke="#585858" stroke-width="1.35"/>
<line x1="273.87" y1="1099.20" x2="282.07" y2="1099.20" stroke="#585858" stroke-width="1.4"/>
<line x1="273.87" y1="1105.40" x2="282.07" y2="1105.40" stroke="#585858" stroke-width="1.4"/>
<rect x="327.64" y="1042.10" width="18.30" height="95.90" fill="#5b9bd5"/>
<line x1="332.79" y1="1042.40" x2="340.79" y2="1042.40" stroke="#777" stroke-width="1.2"/>
<rect x="350.94" y="1117.20" width="18.30" height="20.80" fill="#ed7d31"/>
<line x1="360.09" y1="1111.60" x2="360.09" y2="1121.90" stroke="#585858" stroke-width="1.35"/>
<line x1="355.99" y1="1111.60" x2="364.19" y2="1111.60" stroke="#585858" stroke-width="1.4"/>
<line x1="355.99" y1="1121.90" x2="364.19" y2="1121.90" stroke="#585858" stroke-width="1.4"/>
<rect x="374.69" y="1048.30" width="18.30" height="89.70" fill="#b4b4b4"/>
<line x1="383.84" y1="1042.50" x2="383.84" y2="1053.50" stroke="#585858" stroke-width="1.35"/>
<line x1="379.74" y1="1042.50" x2="387.94" y2="1042.50" stroke="#585858" stroke-width="1.4"/>
<line x1="379.74" y1="1053.50" x2="387.94" y2="1053.50" stroke="#585858" stroke-width="1.4"/>
<rect x="433.51" y="1041.80" width="18.30" height="96.20" fill="#5b9bd5"/>
<line x1="438.66" y1="1042.10" x2="446.66" y2="1042.10" stroke="#777" stroke-width="1.2"/>
<rect x="456.81" y="1111.20" width="18.30" height="26.80" fill="#ed7d31"/>
<line x1="465.96" y1="1105.60" x2="465.96" y2="1116.40" stroke="#585858" stroke-width="1.35"/>
<line x1="461.86" y1="1105.60" x2="470.06" y2="1105.60" stroke="#585858" stroke-width="1.4"/>
<line x1="461.86" y1="1116.40" x2="470.06" y2="1116.40" stroke="#585858" stroke-width="1.4"/>
<rect x="480.56" y="1105.00" width="18.30" height="33.00" fill="#b4b4b4"/>
<line x1="489.71" y1="1102.50" x2="489.71" y2="1107.50" stroke="#585858" stroke-width="1.35"/>
<line x1="485.61" y1="1102.50" x2="493.81" y2="1102.50" stroke="#585858" stroke-width="1.4"/>
<line x1="485.61" y1="1107.50" x2="493.81" y2="1107.50" stroke="#585858" stroke-width="1.4"/>
<line x1="95.30" y1="993.75" x2="95.30" y2="1138.00" stroke="#111" stroke-width="1.6"/>
<line x1="90.20" y1="993.75" x2="95.30" y2="993.75" stroke="#111" stroke-width="1.6"/>
<line x1="90.20" y1="1041.83" x2="95.30" y2="1041.83" stroke="#111" stroke-width="1.6"/>
<line x1="90.20" y1="1089.91" x2="95.30" y2="1089.91" stroke="#111" stroke-width="1.6"/>
<line x1="90.20" y1="1138.00" x2="518.50" y2="1138.00" stroke="#111" stroke-width="1.6"/>
<text x="137.83" y="1103.97" font-size="17.5" fill="#111" transform="translate(148.05,1095.00) scale(1,0.84) translate(-148.05,-1095.00)">***</text>
<text x="165.42" y="1033.40" font-size="18" fill="#111">ns</text>
<text x="245.23" y="1110.47" font-size="17.5" fill="#111" transform="translate(255.45,1101.50) scale(1,0.84) translate(-255.45,-1101.50)">***</text>
<text x="270.33" y="1101.57" font-size="17.5" fill="#111" transform="translate(280.55,1092.60) scale(1,0.84) translate(-280.55,-1092.60)">***</text>
<text x="351.33" y="1113.97" font-size="17.5" fill="#111" transform="translate(361.55,1105.00) scale(1,0.84) translate(-361.55,-1105.00)">***</text>
<text x="374.82" y="1039.60" font-size="18" fill="#111">ns</text>
<text x="456.43" y="1109.87" font-size="17.5" fill="#111" transform="translate(466.65,1100.90) scale(1,0.84) translate(-466.65,-1100.90)">***</text>
<text x="479.93" y="1104.27" font-size="17.5" fill="#111" transform="translate(490.15,1095.30) scale(1,0.84) translate(-490.15,-1095.30)">***</text>
<text x="116.59" y="1161.90" font-size="18" fill="#111">C</text>
<text x="140.17" y="1161.90" font-size="18" fill="#111">G</text>
<text x="164.48" y="1161.90" font-size="18" fill="#111">R</text>
<text x="223.24" y="1161.90" font-size="18" fill="#111">C</text>
<text x="247.37" y="1161.90" font-size="18" fill="#111">G</text>
<text x="271.43" y="1161.90" font-size="18" fill="#111">R</text>
<text x="329.79" y="1161.90" font-size="18" fill="#111">C</text>
<text x="353.77" y="1161.90" font-size="18" fill="#111">G</text>
<text x="377.48" y="1161.90" font-size="18" fill="#111">R</text>
<text x="431.34" y="1161.90" font-size="18" fill="#111">C</text>
<text x="455.07" y="1161.90" font-size="18" fill="#111">G</text>
<text x="479.08" y="1161.90" font-size="18" fill="#111">R</text>
<line x1="104.90" y1="1169.00" x2="183.90" y2="1169.00" stroke="#444" stroke-width="1.7"/>
<line x1="215.20" y1="1169.00" x2="294.20" y2="1169.00" stroke="#444" stroke-width="1.7"/>
<line x1="321.60" y1="1169.00" x2="401.40" y2="1169.00" stroke="#444" stroke-width="1.7"/>
<line x1="431.40" y1="1169.00" x2="510.70" y2="1169.00" stroke="#444" stroke-width="1.7"/>
<text x="134.52" y="1196.90" font-size="18" fill="#111">WT</text>
<text x="223.26" y="1197.50" font-size="18" fill="#111">K142R</text>
<text x="324.71" y="1197.50" font-size="18" fill="#111">K226R</text>
<text x="410.74" y="1196.20" font-size="18" fill="#111">K142/226R</text>
<rect x="537.40" y="1047.30" width="17.60" height="16.40" fill="#5b9bd5"/>
<rect x="537.40" y="1069.30" width="17.60" height="16.40" fill="#ed7d31"/>
<rect x="537.40" y="1091.40" width="17.60" height="16.30" fill="#a8a6a6"/>
<text x="563.54" y="1061.40" font-size="18" fill="#111">C</text>
<text x="563.37" y="1084.20" font-size="18" fill="#111">G</text>
<text x="563.33" y="1106.90" font-size="18" fill="#111">R</text>
</g>
</svg>
</body></html>
